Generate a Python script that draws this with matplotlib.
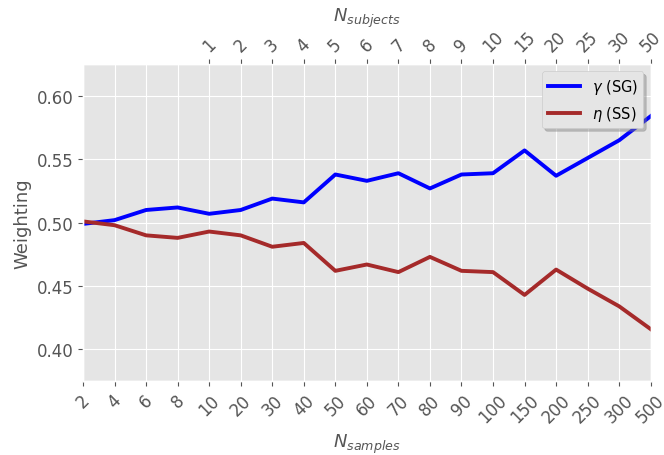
import matplotlib
matplotlib.use("Agg")
import matplotlib.pyplot as plt

# ── data ──────────────────────────────────────────────────────────────────────
n_samples = ["2", "4", "6", "8", "10", "20", "30", "40", "50", "60",
             "70", "80", "90", "100", "150", "200", "250", "300", "500"]
n_subjects = ["1", "2", "3", "4", "5", "6", "7", "8", "9", "10",
              "15", "20", "25", "30", "50"]
subject_pos = list(range(4, 19))   # index into n_samples where subjects start

gamma_sg = [0.499, 0.502, 0.510, 0.512, 0.507, 0.510, 0.519, 0.516, 0.538, 0.533,
            0.539, 0.527, 0.538, 0.539, 0.557, 0.537, 0.551, 0.565, 0.584]
eta_ss = [0.501, 0.498, 0.490, 0.488, 0.493, 0.490, 0.481, 0.484, 0.462, 0.467,
          0.461, 0.473, 0.462, 0.461, 0.443, 0.463, 0.448, 0.434, 0.416]

# ── plot ──────────────────────────────────────────────────────────────────────
plt.style.use("ggplot")

fig, ax = plt.subplots(figsize=(6.64, 4.56), dpi=100)
fig.subplots_adjust(left=0.125, right=0.980, top=0.857, bottom=0.162)

x = list(range(len(n_samples)))
ax.plot(x, gamma_sg, color="blue", lw=2.8, label=r"$\gamma$ (SG)")
ax.plot(x, eta_ss, color="brown", lw=2.8, label=r"$\eta$ (SS)")

ax.set_xlim(0, len(n_samples) - 1)
ax.set_ylim(0.375, 0.625)
ax.set_yticks([0.40, 0.45, 0.50, 0.55, 0.60])
ax.set_xticks(x)
ax.set_xticklabels(n_samples, rotation=45)
ax.tick_params(labelsize=12)
ax.set_xlabel(r"$N_{samples}$", fontsize=13)
ax.set_ylabel("Weighting", fontsize=13)

ax.legend(loc="upper right", fontsize=10.5, handlelength=2.2,
          shadow={"color": "0.5", "alpha": 0.45}, frameon=True)

top = ax.twiny()
top.grid(False)
top.set_xlim(ax.get_xlim())
top.set_xticks(subject_pos)
top.set_xticklabels(n_subjects, rotation=45)
top.tick_params(labelsize=12)
top.set_xlabel(r"$N_{subjects}$", fontsize=13)

fig.savefig("out.png", dpi=100)
